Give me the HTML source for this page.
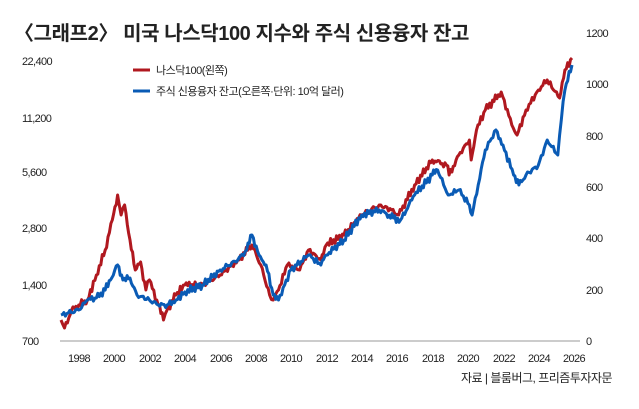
<!DOCTYPE html>
<html><head><meta charset="utf-8"><style>
body{margin:0;background:#fff;width:639px;height:404px;overflow:hidden;font-family:"Liberation Sans","Noto Sans CJK KR",sans-serif}
svg text{font-family:"Liberation Sans","Noto Sans CJK KR",sans-serif;fill:#222}
</style></head><body>
<svg id="s" width="639" height="404" xmlns="http://www.w3.org/2000/svg">
<text x="14" y="40" font-size="20" font-weight="bold" letter-spacing="-0.4">〈그래프2〉 미국 나스닥100 지수와 주식 신용융자 잔고</text>
<g font-size="11" letter-spacing="-0.6">
<text x="22" y="65">22,400</text><text x="22" y="122">11,200</text><text x="22" y="176">5,600</text>
<text x="22" y="232">2,800</text><text x="22" y="289">1,400</text><text x="22" y="345">700</text>
<text x="586" y="37">1200</text><text x="586" y="88">1000</text><text x="586" y="140">800</text>
<text x="586" y="191">600</text><text x="586" y="242">400</text><text x="586" y="294">200</text><text x="586" y="345">0</text>
<text x="79" y="362" text-anchor="middle">1998</text><text x="114" y="362" text-anchor="middle">2000</text>
<text x="150" y="362" text-anchor="middle">2002</text><text x="185" y="362" text-anchor="middle">2004</text>
<text x="221" y="362" text-anchor="middle">2006</text><text x="256" y="362" text-anchor="middle">2008</text>
<text x="291" y="362" text-anchor="middle">2010</text><text x="327" y="362" text-anchor="middle">2012</text>
<text x="362" y="362" text-anchor="middle">2014</text><text x="397" y="362" text-anchor="middle">2016</text>
<text x="433" y="362" text-anchor="middle">2018</text><text x="468" y="362" text-anchor="middle">2020</text>
<text x="504" y="362" text-anchor="middle">2022</text><text x="539" y="362" text-anchor="middle">2024</text>
<text x="574" y="362" text-anchor="middle">2026</text>
</g>
<line x1="60" y1="341" x2="580" y2="341" stroke="#999" stroke-width="1"/>
<line x1="133" y1="70" x2="150" y2="70" stroke="#b0181f" stroke-width="3"/>
<text x="156" y="74" font-size="11" letter-spacing="-0.5">나스닥100(왼쪽)</text>
<line x1="133" y1="91" x2="150" y2="91" stroke="#0a5bb5" stroke-width="3"/>
<text x="156" y="95" font-size="11" letter-spacing="-0.5">주식 신용융자 잔고(오른쪽·단위: 10억 달러)</text>
<text x="612" y="382" font-size="12" text-anchor="end" letter-spacing="-0.5">자료 | 블룸버그, 프리즘투자자문</text>
<polyline id="r" fill="none" stroke="#b0181f" stroke-width="3" stroke-linejoin="round"/>
<polyline id="b" fill="none" stroke="#0a5bb5" stroke-width="3" stroke-linejoin="round"/>
</svg>
<script>
var R=[[1997,320],[1997.2,328],[1997.6,310],[1998,305],[1998.5,300],[1999,275],[1999.5,250],[1999.9,220],[2000.2,195],[2000.4,215],[2000.6,205],[2000.9,240],[2001.2,270],[2001.5,262],[2001.8,290],[2002,280],[2002.5,305],[2002.8,320],[2003,310],[2003.5,295],[2004,285],[2005,285],[2006,275],[2007,260],[2007.8,245],[2008.3,265],[2008.8,295],[2009,300],[2009.3,290],[2009.8,265],[2010.5,270],[2011,250],[2011.7,260],[2012,245],[2013,235],[2014,215],[2015,205],[2015.7,210],[2016.1,215],[2017,185],[2018,160],[2018.8,165],[2018.95,175],[2019.5,155],[2020.1,140],[2020.2,160],[2020.5,130],[2021,110],[2021.9,92],[2022.5,125],[2022.8,135],[2023.3,110],[2024,90],[2024.5,80],[2025.2,98],[2025.5,70],[2025.9,58]];
var B=[[1997,315],[1998,310],[1998.5,300],[1999,298],[1999.5,290],[1999.8,280],[2000.2,265],[2000.5,280],[2000.9,278],[2001.3,295],[2002,300],[2002.5,305],[2003,305],[2003.5,300],[2004,292],[2005,285],[2006,270],[2007,260],[2007.5,250],[2007.8,235],[2008.2,255],[2008.6,265],[2009,295],[2009.3,300],[2010,270],[2011,255],[2011.7,265],[2012,255],[2013,240],[2014,215],[2015,210],[2015.8,218],[2016.2,220],[2017,195],[2018,175],[2018.3,170],[2018.9,195],[2019.5,190],[2020.1,205],[2020.25,215],[2020.6,185],[2021,150],[2021.6,130],[2022,145],[2022.6,175],[2022.9,185],[2023.3,175],[2024,165],[2024.5,140],[2025.1,155],[2025.3,120],[2025.5,90],[2025.9,65]];
function build(d,seed){var p=[];for(var i=0;i<d.length-1;i++){var a=d[i],b=d[i+1];var n=Math.max(1,Math.round((b[0]-a[0])*12));for(var k=0;k<n;k++){var t=k/n,yr=a[0]+(b[0]-a[0])*t,y=a[1]+(b[1]-a[1])*t;if(k>0)y+=Math.sin(yr*37+seed)*2.5+Math.sin(yr*91+seed)*1.5;p.push((61+(yr-1997)*17.68).toFixed(1)+','+y.toFixed(1));}}var l=d[d.length-1];p.push((61+(l[0]-1997)*17.68).toFixed(1)+','+l[1]);return p.join(' ');}
document.getElementById('r').setAttribute('points',build(R,1));
document.getElementById('b').setAttribute('points',build(B,5));
</script>
</body></html>
